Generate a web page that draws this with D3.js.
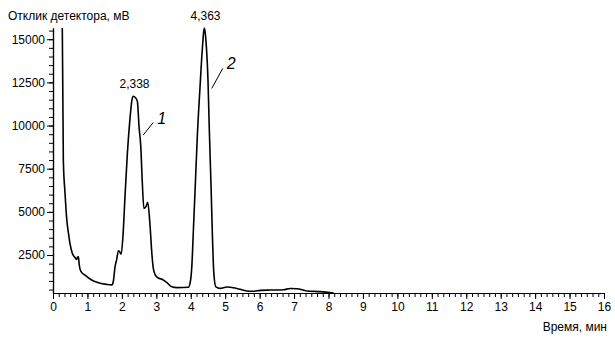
<!DOCTYPE html>
<html><head><meta charset="utf-8">
<script src="https://cdn.jsdelivr.net/npm/d3@7"></script>
<style>
body{margin:0;background:#fff;}
svg{display:block;font-family:"Liberation Sans",Arial,sans-serif;}
</style></head>
<body><svg id="c" width="615" height="340"></svg>
<script>
const times = [0.27,0.30,0.35,0.40,0.45,0.49,0.56,0.64,0.69,0.71,0.74,0.76,0.81,0.93,1.12,1.32,1.56,1.71,1.75,1.80,1.85,1.90,1.93,1.98,2.03,2.09,2.16,2.24,2.29,2.33,2.40,2.45,2.50,2.55,2.59,2.64,2.70,2.75,2.82,2.87,2.92,3.01,3.21,3.30,3.45,3.60,3.93,3.98,4.03,4.08,4.13,4.19,4.27,4.34,4.38,4.40,4.44,4.50,4.54,4.59,4.63,4.67,4.73,4.85,5.05,5.34,5.63,5.82,6.02,6.31,6.69,6.89,7.08,7.37,7.76,8.15];
const values = [15650,8000,6050,4550,3750,3200,2600,2350,2250,2380,2400,1950,1550,1330,1050,900,800,770,950,1800,2250,2750,2700,2550,3550,5850,8400,10500,11450,11700,11600,11400,9900,8750,6850,5200,5300,5550,4150,2600,1650,1230,1050,920,660,610,630,870,1800,4100,6450,9350,12250,14550,15500,15650,14950,12650,9700,6450,3550,1450,650,570,650,560,420,400,450,470,490,560,550,420,380,300];
const xMajorTicks = d3.range(0,17,1);
const xMinorTicks = d3.range(0,96).map(i=>i/6);
const yMajorTicks = [2500,5000,7500,10000,12500,15000];
const yMinorTicks = d3.range(500,16000,500);
const peakTimes = [2.338, 4.40];
const peakValues = [11700, 15650];
const peakLabels = ["2,338","4,363"];
const calloutTimes = [2.62, 4.61];
const calloutValues = [9450, 12150];
const calloutLabels = ["1","2"];
const yTitle = "Отклик детектора, мВ";
const xTitle = "Время, мин";

const svg = d3.select("#c");
const x = d3.scaleLinear().domain([0,16]).range([53,604]);
const y = d3.scaleLinear().domain([300,15650]).range([293,28]);

// axes
const xMinor = d3.axisBottom(x).tickValues(xMinorTicks).tickSize(4).tickFormat("").tickSizeOuter(0);
const xMajor = d3.axisBottom(x).tickValues(xMajorTicks).tickSize(6).tickPadding(3).tickFormat(d3.format("d")).tickSizeOuter(0);
const yMinor = d3.axisLeft(y).tickValues(yMinorTicks).tickSize(4).tickFormat("").tickSizeOuter(0);
const yMajor = d3.axisLeft(y).tickValues(yMajorTicks).tickSize(6).tickPadding(2).tickFormat(d3.format("d")).tickSizeOuter(0);

function style(g){
  g.selectAll("path.domain").attr("stroke","#000").attr("stroke-width",1.2);
  g.selectAll(".tick line").attr("stroke","#000").attr("stroke-width",1);
  g.selectAll(".tick text").attr("fill","#000").attr("font-size",12).attr("font-family","'Liberation Sans',Arial,sans-serif");
}
svg.append("g").attr("transform","translate(0,293)").call(xMinor).call(style);
svg.append("g").attr("transform","translate(0,293)").call(xMajor).call(style);
svg.append("g").attr("transform","translate(53,0)").call(yMinor).call(style);
svg.append("g").attr("transform","translate(53,0)").call(yMajor).call(style);

// curve
const pts = times.map((t,i)=>[t,values[i]]);
svg.append("path").datum(pts)
  .attr("fill","none").attr("stroke","#000").attr("stroke-width",1.6).attr("stroke-linejoin","round")
  .attr("d", d3.line().x(d=>x(d[0])).y(d=>y(d[1])).curve(d3.curveMonotoneX));

// peak labels
peakTimes.forEach((t,i)=>{
  svg.append("text").attr("x",x(t)+1).attr("y",y(peakValues[i])-8)
    .attr("text-anchor","middle").attr("font-size",12).attr("fill","#000").text(peakLabels[i]);
});
// callouts
calloutTimes.forEach((t,i)=>{
  const px=x(t), py=y(calloutValues[i]);
  const dx = i===0?10:11, dy = i===0?-12.5:-20;
  svg.append("line").attr("x1",px).attr("y1",py).attr("x2",px+dx).attr("y2",py+dy)
    .attr("stroke","#000").attr("stroke-width",1);
  svg.append("text").attr("x",px+dx+4).attr("y",py+dy+1)
    .attr("font-size",16).attr("font-style","italic").attr("fill","#000").text(calloutLabels[i]);
});

// titles
svg.append("text").attr("x",8).attr("y",20).attr("font-size",12).attr("fill","#000").text(yTitle);
svg.append("text").attr("x",607).attr("y",331).attr("text-anchor","end").attr("font-size",12).attr("fill","#000").text(xTitle);
</script></body></html>
